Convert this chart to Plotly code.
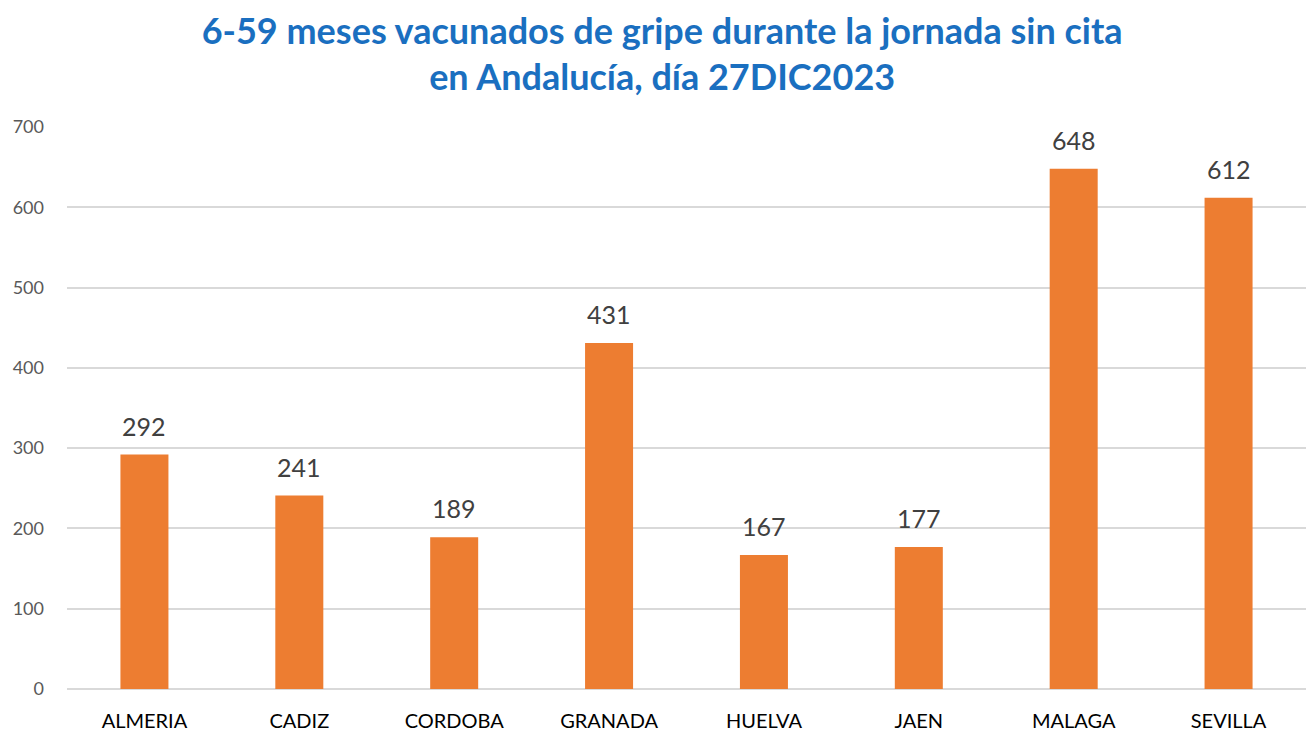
import plotly.graph_objects as go

categories = ["ALMERIA", "CADIZ", "CORDOBA", "GRANADA", "HUELVA", "JAEN", "MALAGA", "SEVILLA"]
values = [292, 241, 189, 431, 167, 177, 648, 612]
y_ticks = [0, 100, 200, 300, 400, 500, 600, 700]

fig = go.Figure(go.Bar(
    x=categories, y=values,
    marker=dict(color="#ED7D31", line=dict(width=0)),
    cliponaxis=False,
))

for c, v in zip(categories, values):
    fig.add_annotation(
        x=c, y=v, text=str(v), showarrow=False,
        yanchor="bottom", yshift=12,
        font=dict(family="Lato", size=25, color="#404040"),
    )

fig.update_layout(
    width=1306, height=738,
    margin=dict(l=67, r=0, t=127, b=49),
    paper_bgcolor="white", plot_bgcolor="white",
    bargap=0.69,
    showlegend=False,
    title=dict(
        text="6-59 meses vacunados de gripe durante la jornada sin cita<br>en Andalucía, día 27DIC2023",
        x=0.507, xanchor="center", yref="container", y=0.941, yanchor="middle",
        font=dict(family="Lato", size=36, color="#1A6FC0", weight="bold"),
    ),
    xaxis=dict(
        tickfont=dict(family="Lato", size=20, color="#000000"),
        showgrid=False, showline=False, ticks="",
        ticklabelstandoff=18,
    ),
    yaxis=dict(
        range=[0, 700], tickvals=y_ticks,
        tickfont=dict(family="Lato", size=18, color="#595959"),
        gridcolor="#D9D9D9", gridwidth=1.5,
        zeroline=True, zerolinecolor="#D9D9D9", zerolinewidth=1.5,
        ticks="", ticklabelstandoff=22,
    ),
)

fig.write_html("out.html")
